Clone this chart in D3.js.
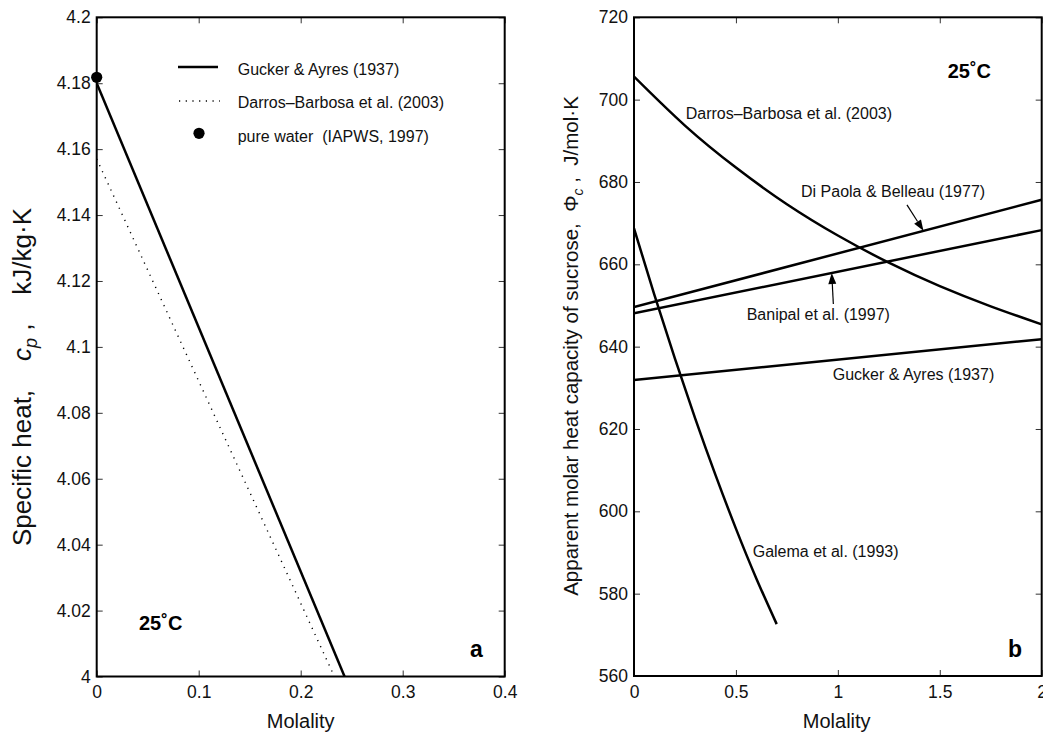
<!DOCTYPE html>
<html>
<head>
<meta charset="utf-8">
<script src="https://cdn.jsdelivr.net/npm/d3@7"></script>
<style>
  html, body { margin: 0; padding: 0; background: #fff; }
  svg { display: block; font-family: "Liberation Sans", Arial, Helvetica, sans-serif; }
</style>
</head>
<body>
<svg id="chart" width="1043" height="732"></svg>
<script>
// ---- Panel a: specific heat of aqueous sucrose, 25 °C ----
const cpTicksX = [0, 0.1, 0.2, 0.3, 0.4];
const cpTickLabelsX = ["0", "0.1", "0.2", "0.3", "0.4"];
const cpTicksY = [4, 4.02, 4.04, 4.06, 4.08, 4.1, 4.12, 4.14, 4.16, 4.18, 4.2];
const cpTickLabelsY = ["4", "4.02", "4.04", "4.06", "4.08", "4.1", "4.12", "4.14", "4.16", "4.18", "4.2"];

const guckerCpMolality = [0, 0.243];
const guckerCpValues = [4.18, 4.0];
const darrosCpMolality = [0, 0.233];
const darrosCpValues = [4.157, 4.0];
const pureWaterMolality = 0;
const pureWaterCp = 4.1818;

const cpLegend = ["Gucker & Ayres (1937)", "Darros\u2013Barbosa et al. (2003)", "pure water  (IAPWS, 1997)"];

// ---- Panel b: apparent molar heat capacity of sucrose, 25 °C ----
const phiTicksX = [0, 0.5, 1, 1.5, 2];
const phiTickLabelsX = ["0", "0.5", "1", "1.5", "2"];
const phiTicksY = [560, 580, 600, 620, 640, 660, 680, 700, 720];
const phiTickLabelsY = ["560", "580", "600", "620", "640", "660", "680", "700", "720"];

const darrosPhiMolality = [0, 0.25, 0.5, 0.75, 1, 1.25, 1.5, 1.75, 2];
const darrosPhiValues = [705.6, 693.7, 683.5, 674.6, 667.0, 660.4, 654.7, 649.8, 645.4];
const diPaolaMolality = [0, 2];
const diPaolaValues = [649.6, 675.7];
const banipalMolality = [0, 2];
const banipalValues = [648.1, 668.3];
const guckerPhiMolality = [0, 2];
const guckerPhiValues = [631.9, 641.8];
const galemaMolality = [0, 0.1, 0.2, 0.3, 0.4, 0.5, 0.6, 0.7];
const galemaValues = [668.7, 652.6, 637.2, 622.6, 608.8, 595.8, 583.7, 572.6];

const svg = d3.select("#chart");

function zip(xs, ys) { return xs.map((x, i) => [x, ys[i]]); }

// Draws the boxed frame with inward ticks on all four sides
function frame(g, x, y, ticksX, labelsX, ticksY, labelsY) {
  const [x0, x1] = x.range();
  const [y0, y1] = y.range();
  const fmtX = d => labelsX[ticksX.indexOf(d)];
  const fmtY = d => labelsY[ticksY.indexOf(d)];

  const styleAxis = a => {
    a.select(".domain").remove();
    a.selectAll(".tick line").attr("stroke", "#333").attr("stroke-width", 1);
    a.selectAll(".tick text").attr("fill", "#111").style("font-size", "17.5px")
      .style("font-family", '"Liberation Sans", Arial, sans-serif');
  };

  g.append("g").attr("transform", `translate(0,${y0})`)
    .call(d3.axisBottom(x).tickValues(ticksX).tickFormat(fmtX).tickSizeInner(-6).tickSizeOuter(0).tickPadding(9.5))
    .call(styleAxis);
  g.append("g").attr("transform", `translate(0,${y1})`)
    .call(d3.axisTop(x).tickValues(ticksX).tickFormat("").tickSizeInner(-6).tickSizeOuter(0))
    .call(styleAxis);
  g.append("g").attr("transform", `translate(${x0},0)`)
    .call(d3.axisLeft(y).tickValues(ticksY).tickFormat(fmtY).tickSizeInner(-6).tickSizeOuter(0).tickPadding(6))
    .call(styleAxis);
  g.append("g").attr("transform", `translate(${x1},0)`)
    .call(d3.axisRight(y).tickValues(ticksY).tickFormat("").tickSizeInner(-6).tickSizeOuter(0))
    .call(styleAxis);

  g.append("rect")
    .attr("x", x0).attr("y", y1)
    .attr("width", x1 - x0).attr("height", y0 - y1)
    .attr("fill", "none").attr("stroke", "#000").attr("stroke-width", 2);
}

function clip(id, x, y) {
  const [x0, x1] = x.range();
  const [y0, y1] = y.range();
  svg.append("clipPath").attr("id", id).append("rect")
    .attr("x", x0).attr("y", y1).attr("width", x1 - x0).attr("height", y0 - y1);
}

function arrow(g, from, to) {
  const dx = to[0] - from[0], dy = to[1] - from[1];
  const len = Math.hypot(dx, dy);
  const ux = dx / len, uy = dy / len;
  const hl = 11, hw = 4;
  const bx = to[0] - ux * hl, by = to[1] - uy * hl;
  g.append("line")
    .attr("x1", from[0]).attr("y1", from[1]).attr("x2", bx).attr("y2", by)
    .attr("stroke", "#000").attr("stroke-width", 1.2);
  g.append("path")
    .attr("d", `M${to[0]},${to[1]}L${bx - uy * hw},${by + ux * hw}L${bx + uy * hw},${by - ux * hw}Z`)
    .attr("fill", "#000");
}

// ================= Panel a =================
const xa = d3.scaleLinear().domain([0, 0.4]).range([96.7, 504.7]);
const ya = d3.scaleLinear().domain([4, 4.2]).range([676.5, 17.3]);
clip("clipA", xa, ya);

const ga = svg.append("g");
const lineA = d3.line().x(d => xa(d[0])).y(d => ya(d[1]));

ga.append("path").datum(zip(darrosCpMolality, darrosCpValues))
  .attr("clip-path", "url(#clipA)")
  .attr("d", lineA).attr("fill", "none").attr("stroke", "#000")
  .attr("stroke-width", 1.4).attr("stroke-dasharray", "1.2,5.5");
ga.append("path").datum(zip(guckerCpMolality, guckerCpValues))
  .attr("clip-path", "url(#clipA)")
  .attr("d", lineA).attr("fill", "none").attr("stroke", "#000").attr("stroke-width", 2.5);

frame(ga, xa, ya, cpTicksX, cpTickLabelsX, cpTicksY, cpTickLabelsY);

ga.append("circle").attr("cx", xa(pureWaterMolality)).attr("cy", ya(pureWaterCp))
  .attr("r", 5.6).attr("fill", "#000");

// legend
const legA = ga.append("g").style("font-size", "16px");
legA.append("line").attr("x1", 178).attr("x2", 218).attr("y1", 67).attr("y2", 67)
  .attr("stroke", "#000").attr("stroke-width", 2.5);
legA.append("line").attr("x1", 179).attr("x2", 220).attr("y1", 101).attr("y2", 101)
  .attr("stroke", "#000").attr("stroke-width", 1.4).attr("stroke-dasharray", "1.2,5.5");
legA.append("circle").attr("cx", 199).attr("cy", 133.3).attr("r", 5.6).attr("fill", "#000");
[75, 108.3, 141.7].forEach((yb, i) => {
  legA.append("text").attr("x", 237.7).attr("y", yb).attr("xml:space", "preserve")
    .attr("fill", "#111").text(cpLegend[i]);
});

ga.append("text").attr("x", 139).attr("y", 630).style("font-size", "20px").style("font-weight", "bold")
  .text("25\u02DAC");
ga.append("text").attr("x", 470).attr("y", 656.5).style("font-size", "23px").style("font-weight", "bold")
  .text("a");

ga.append("text").attr("x", 300.7).attr("y", 728).attr("text-anchor", "middle")
  .style("font-size", "20px").attr("fill", "#111").text("Molality");

const ylabA = ga.append("text")
  .attr("transform", "translate(31,377) rotate(-90)")
  .attr("text-anchor", "middle").attr("xml:space", "preserve")
  .style("font-size", "26px").attr("fill", "#111");
ylabA.append("tspan").text("Specific heat,    ");
ylabA.append("tspan").style("font-style", "italic").text("c");
ylabA.append("tspan").style("font-style", "italic").style("font-size", "18px").attr("dy", 6).text("p");
ylabA.append("tspan").attr("dy", -6).text(" ,    kJ/kg\u00B7K");

// ================= Panel b =================
const xb = d3.scaleLinear().domain([0, 2]).range([634, 1041.7]);
const yb = d3.scaleLinear().domain([560, 720]).range([676, 17.3]);
clip("clipB", xb, yb);

const gb = svg.append("g");
const lineStraight = d3.line().x(d => xb(d[0])).y(d => yb(d[1]));
const lineSmooth = d3.line().x(d => xb(d[0])).y(d => yb(d[1])).curve(d3.curveNatural);

[
  [zip(darrosPhiMolality, darrosPhiValues), lineSmooth],
  [zip(diPaolaMolality, diPaolaValues), lineStraight],
  [zip(banipalMolality, banipalValues), lineStraight],
  [zip(guckerPhiMolality, guckerPhiValues), lineStraight],
  [zip(galemaMolality, galemaValues), lineSmooth]
].forEach(([pts, gen]) => {
  gb.append("path").datum(pts).attr("clip-path", "url(#clipB)")
    .attr("d", gen).attr("fill", "none").attr("stroke", "#000").attr("stroke-width", 2.5);
});

frame(gb, xb, yb, phiTicksX, phiTickLabelsX, phiTicksY, phiTickLabelsY);

const labB = gb.append("g").style("font-size", "16px").attr("fill", "#111");
labB.append("text").attr("x", 685.7).attr("y", 119).text("Darros\u2013Barbosa et al. (2003)");
labB.append("text").attr("x", 801).attr("y", 196.7).text("Di Paola & Belleau (1977)");
labB.append("text").attr("x", 746.7).attr("y", 320).text("Banipal et al. (1997)");
labB.append("text").attr("x", 832.7).attr("y", 380).text("Gucker & Ayres (1937)");
labB.append("text").attr("x", 752.7).attr("y", 556.7).text("Galema et al. (1993)");

// arrows pointing at the Di Paola and Banipal lines
const lerp = (ms, vs, m) => vs[0] + (vs[1] - vs[0]) * (m - ms[0]) / (ms[1] - ms[0]);
const dpTip = [xb(1.42), yb(lerp(diPaolaMolality, diPaolaValues, 1.42))];
arrow(gb, [dpTip[0] - 16.5, dpTip[1] - 26], dpTip);
const bnTip = [xb(0.97), yb(lerp(banipalMolality, banipalValues, 0.97))];
arrow(gb, [bnTip[0] + 1.6, bnTip[1] + 31], bnTip);

gb.append("text").attr("x", 947.7).attr("y", 78).style("font-size", "20px").style("font-weight", "bold")
  .text("25\u02DAC");
gb.append("text").attr("x", 1008).attr("y", 656.5).style("font-size", "23px").style("font-weight", "bold")
  .text("b");

gb.append("text").attr("x", 836.7).attr("y", 728).attr("text-anchor", "middle")
  .style("font-size", "20px").attr("fill", "#111").text("Molality");

const ylabB = gb.append("text")
  .attr("transform", "translate(578,346) rotate(-90)")
  .attr("text-anchor", "middle").attr("xml:space", "preserve")
  .style("font-size", "20.5px").attr("fill", "#111");
ylabB.append("tspan").text("Apparent molar heat capacity of sucrose,  \u03A6");
ylabB.append("tspan").style("font-style", "italic").style("font-size", "14px").attr("dy", 5).text("c");
ylabB.append("tspan").attr("dy", -5).text(" ,  J/mol\u00B7K");
</script>
</body>
</html>
